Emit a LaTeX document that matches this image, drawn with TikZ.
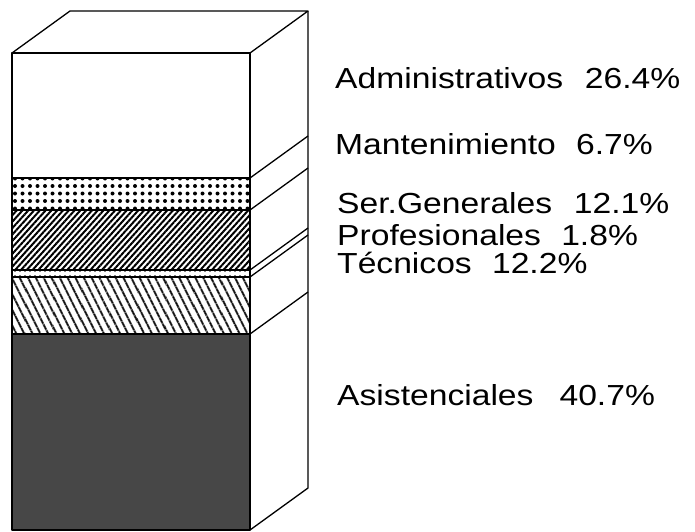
\documentclass[tikz,border=0pt]{standalone}
\usepackage{fontspec}
\newfontfamily\etiqfont[FakeStretch=1.16]{Liberation Sans}
\usetikzlibrary{patterns.meta, positioning}

\begin{document}
\begin{tikzpicture}[x=1pt, y=-1pt]
  \tikzstyle{bord} = [draw=black, line width=1.3pt, line join=round]
  \tikzstyle{etiq} = [anchor=base west, inner sep=0pt, font=\etiqfont\fontsize{29}{30}\selectfont]
  \tikzstyle{mant} = [pattern={Dots[distance=7.5pt, radius=2pt]}]
  \tikzstyle{serg} = [pattern={Lines[angle=48, distance=4.3pt, line width=2pt]}]
  \tikzstyle{prof} = [pattern={Dots[distance=5pt, radius=0.9pt]}]
  \tikzstyle{tecn} = [pattern={Lines[angle=-63, distance=6.5pt, line width=2.2pt]}]
  \tikzstyle{asis} = [fill=black!72]
  \useasboundingbox (0,0) rectangle (695,531);
  % capas de la cara frontal
  \fill[mant] (12,178) rectangle (250,210);
  \fill[serg] (12,210) rectangle (250,270);
  \fill[prof] (12,270) rectangle (250,277);
  \fill[tecn] (12,277) rectangle (250,334);
  \fill[asis] (12,334) rectangle (250,530);
  \draw[bord] (12,53) rectangle (250,530);
  \draw[bord] (12,178) -- (250,178);
  \draw[bord] (12,210) -- (250,210);
  \draw[bord] (12,270) -- (250,270);
  \draw[bord] (12,277) -- (250,277);
  \draw[bord] (12,334) -- (250,334);
  % tapa y lateral
  \draw[bord] (12,53) -- (70,11) -- (308,11) -- (250,53);
  \draw[bord] (308,11) -- (308,488) -- (250,530);
  \draw[bord] (250,178) -- (308,136);
  \draw[bord] (250,210) -- (308,168);
  \draw[bord] (250,270) -- (308,228);
  \draw[bord] (250,277) -- (308,235);
  \draw[bord] (250,334) -- (308,292);
  % etiquetas
  \node[etiq] at (335,88) (adm) {Administrativos\hspace{.75em}26.4\%};
  \node[etiq] at (335,154) (man) {Mantenimiento\hspace{.7em}6.7\%};
  \node[etiq] at (337,213) (ser) {Ser.Generales\hspace{.75em}12.1\%};
  \node[etiq] at (337,245) (pro) {Profesionales\hspace{.7em}1.8\%};
  \node[etiq] at (337,273) (tec) {Técnicos\hspace{.7em}12.2\%};
  \node[etiq] at (337,405) (asi) {Asistenciales\hspace{.9em}40.7\%};
\end{tikzpicture}
\end{document}
